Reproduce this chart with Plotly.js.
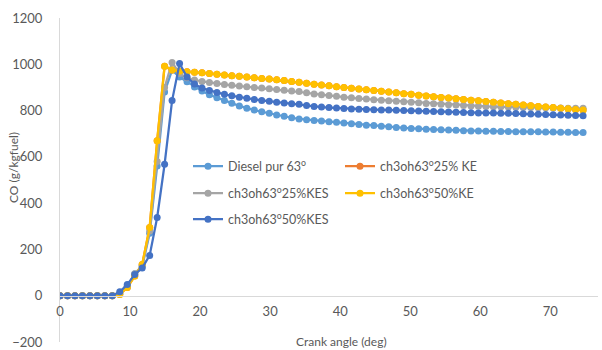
<!DOCTYPE html>
<html>
<head>
<meta charset="utf-8">
<script src="https://cdn.plot.ly/plotly-3.0.1.min.js"></script>
<style>
  html, body { margin: 0; padding: 0; background: #ffffff; }
  #chart { width: 602px; height: 350px; }
</style>
</head>
<body>
<div id="chart"></div>
<script>
// Crank angle of each sample (deg)
const crankAngle = [
  0, 1.07, 2.13, 3.2, 4.27, 5.33, 6.4, 7.47, 8.53, 9.6,
  10.67, 11.73, 12.8, 13.87, 14.93, 16, 17.07, 18.13, 19.2, 20.27,
  21.33, 22.4, 23.47, 24.53, 25.6, 26.67, 27.73, 28.8, 29.87, 30.93,
  32, 33.07, 34.13, 35.2, 36.27, 37.33, 38.4, 39.47, 40.53, 41.6,
  42.67, 43.73, 44.8, 45.87, 46.93, 48, 49.07, 50.13, 51.2, 52.27,
  53.33, 54.4, 55.47, 56.53, 57.6, 58.67, 59.73, 60.8, 61.87, 62.93,
  64, 65.07, 66.13, 67.2, 68.27, 69.33, 70.4, 71.47, 72.53, 73.6, 74.67
];

// CO emission (g/kgfuel) for each fuel
const dieselPur63 = [
  0, 0, 0, 0, 0, 0, 0, 0, 8, 40,
  95, 125, 270, 560, 880, 975, 945, 925, 902, 885,
  868, 855, 843, 832, 820, 810, 802, 795, 788, 781,
  775, 769, 764, 760, 757, 755, 752, 749, 746, 743,
  740, 737, 735, 732, 730, 727, 725, 723, 721, 719,
  718, 717, 716, 715, 713, 712, 712, 711, 711, 710,
  710, 709, 709, 708, 708, 707, 707, 706, 706, 705, 705
];
const ch3oh63_25KE = [
  0, 0, 0, 0, 0, 0, 0, 0, 5, 35,
  85, 135, 295, 670, 992, 975, 970, 968, 966, 963,
  960, 957, 954, 951, 948, 945, 942, 939, 936, 933,
  930, 926, 922, 918, 914, 910, 907, 903, 900, 896,
  893, 890, 887, 883, 880, 877, 873, 870, 866, 863,
  860, 857, 854, 851, 848, 845, 842, 839, 836, 833,
  830, 827, 824, 821, 818, 815, 813, 810, 808, 805, 803
];
const ch3oh63_25KES = [
  0, 0, 0, 0, 0, 0, 0, 0, 8, 40,
  95, 130, 280, 580, 900, 1008, 960, 942, 932, 926,
  921, 917, 913, 909, 906, 903, 900, 897, 894, 891,
  888, 885, 882, 877, 872, 868, 865, 862, 858, 855,
  852, 850, 847, 845, 842, 840, 838, 836, 834, 831,
  829, 827, 825, 824, 822, 820, 819, 818, 817, 816,
  815, 814, 813, 813, 812, 812, 811, 811, 810, 810, 810
];
const ch3oh63_50KE = [
  0, 0, 0, 0, 0, 0, 0, 0, 5, 35,
  85, 135, 295, 670, 992, 975, 970, 968, 966, 963,
  960, 957, 954, 951, 948, 945, 942, 939, 936, 933,
  930, 926, 922, 918, 914, 910, 907, 903, 900, 896,
  893, 890, 887, 883, 880, 877, 873, 870, 866, 863,
  860, 857, 854, 851, 848, 845, 842, 839, 836, 833,
  830, 827, 824, 821, 818, 815, 813, 810, 808, 805, 803
];
const ch3oh63_50KES = [
  0, 0, 0, 0, 0, 0, 0, 0, 17, 48,
  92, 120, 174, 338, 568, 843, 1003, 945, 915, 897,
  887, 878, 870, 864, 858, 853, 848, 844, 840, 836,
  833, 830, 827, 822, 818, 815, 813, 811, 809, 807,
  806, 805, 804, 803, 802, 801, 800, 799, 798, 797,
  796, 795, 794, 793, 792, 791, 790, 790, 789, 788,
  788, 787, 786, 785, 784, 783, 782, 781, 780, 779, 778
];

const seriesNames = [
  'Diesel pur 63<sup>o</sup>',
  'ch3oh63<sup>o</sup>25% KE',
  'ch3oh63<sup>o</sup>25%KES',
  'ch3oh63<sup>o</sup>50%KE',
  'ch3oh63<sup>o</sup>50%KES'
];
const seriesValues = [dieselPur63, ch3oh63_25KE, ch3oh63_25KES, ch3oh63_50KE, ch3oh63_50KES];
const seriesColors = ['#5B9BD5', '#ED7D31', '#A5A5A5', '#FFC000', '#4472C4'];
// Each series gets its own legend box, laid out as a two-column grid
const legendIds = ['legend', 'legend2', 'legend3', 'legend4', 'legend5'];

const traces = seriesValues.map((vals, k) => ({
  type: 'scatter',
  mode: 'lines+markers',
  name: seriesNames[k],
  legend: legendIds[k],
  x: crankAngle,
  y: vals,
  line: { color: seriesColors[k], width: 2.25 },
  marker: { color: seriesColors[k], size: 7, symbol: 'circle' }
}));

const fontFamily = 'Lato, "Liberation Sans", sans-serif';
const tickFont = { family: fontFamily, size: 13, color: '#595959' };
const titleFont = { family: fontFamily, size: 12, color: '#595959' };
const legendFont = { family: fontFamily, size: 12.5, color: '#595959' };

// Plot area: 538 px wide starting at 60 px, 324 px tall ending at 342 px
function legendBox(leftPx, centerPx) {
  return {
    orientation: 'h',
    x: (leftPx - 60) / 538,
    y: (342 - centerPx) / 324,
    xanchor: 'left',
    yanchor: 'middle',
    bgcolor: 'rgba(0,0,0,0)',
    font: legendFont
  };
}

const layout = {
  width: 602,
  height: 350,
  margin: { l: 60, r: 4, t: 18, b: 8, autoexpand: false },
  paper_bgcolor: '#ffffff',
  plot_bgcolor: '#ffffff',
  font: tickFont,
  showlegend: true,
  legend: legendBox(188, 166.5),
  legend2: legendBox(340, 166.5),
  legend3: legendBox(188, 193.5),
  legend4: legendBox(340, 193.5),
  legend5: legendBox(188, 219.5),
  xaxis: {
    range: [0, 76.8],
    tickmode: 'linear',
    tick0: 0,
    dtick: 10,
    showgrid: false,
    zeroline: false,
    showline: true,
    linecolor: '#d9d9d9',
    linewidth: 1,
    ticks: '',
    anchor: 'free',
    position: 200 / 1400,
    ticklabelstandoff: 4,
    tickfont: tickFont
  },
  yaxis: {
    range: [-200, 1200],
    tickmode: 'linear',
    tick0: -200,
    dtick: 200,
    showgrid: false,
    zeroline: false,
    showline: true,
    linecolor: '#d9d9d9',
    linewidth: 1,
    ticks: '',
    ticklabelstandoff: 14,
    tickfont: tickFont
  },
  annotations: [
    {
      text: 'Crank angle (deg)',
      xref: 'paper', yref: 'paper',
      x: (341 - 60) / 538, y: (342 - 341) / 324,
      xanchor: 'center', yanchor: 'middle',
      showarrow: false,
      font: titleFont
    },
    {
      text: 'CO (g/kgfuel)',
      textangle: -90,
      xref: 'paper', yref: 'paper',
      x: (14 - 60) / 538, y: (342 - 168) / 324,
      xanchor: 'center', yanchor: 'middle',
      showarrow: false,
      font: titleFont
    }
  ]
};

Plotly.newPlot('chart', traces, layout, { displayModeBar: false, staticPlot: true });
</script>
</body>
</html>
